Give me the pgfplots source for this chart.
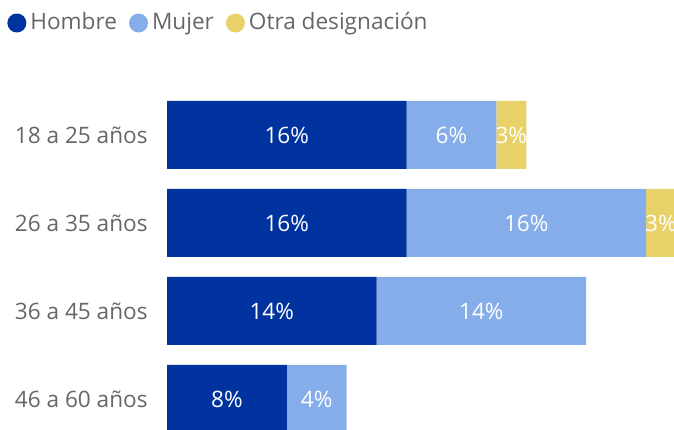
\documentclass[border=0pt]{standalone}
\usepackage{pgfplots}
\pgfplotsset{compat=1.18}
\usepackage{fontspec}
\setmainfont{Open Sans}
\definecolor{hombre}{RGB}{0,51,160}
\definecolor{mujer}{RGB}{133,173,233}
\definecolor{otra}{RGB}{232,209,104}
\definecolor{txt}{RGB}{102,102,102}

\begin{document}
\fontsize{11.3pt}{13pt}\selectfont
\begin{tikzpicture}
\begin{axis}[
  at={(83.5pt,0pt)}, anchor=south west,
  scale only axis,
  x=7.4845pt, xmin=0, xmax=35,
  height=169.5pt,
  ymin=-0.511, ymax=3.341, y dir=reverse,
  xbar stacked, bar width=34pt,
  ytick={0,1,2,3},
  yticklabels={18 a 25 años,26 a 35 años,36 a 45 años,46 a 60 años},
  yticklabel style={text=txt, inner sep=0pt, xshift=-9.5pt},
  xtick=\empty,
  axis line style={draw=none},
  major tick length=0pt,
  point meta=explicit symbolic,
  nodes near coords,
  every node near coord/.append style={text=white, anchor=center, inner sep=0pt},
  legend columns=-1,
  legend image code/.code={\fill[#1] (4.75pt,0pt) circle (4.75pt);},
  legend style={at={(-0.3156*33.87/35,1.1976)}, anchor=west, draw=none, fill=none,
    inner sep=0pt, text=txt, nodes={inner sep=0pt},
    /tikz/every odd column/.append style={column sep=2pt},
    /tikz/every even column/.append style={column sep=6pt}},
]
\addplot[fill=hombre, draw=none] coordinates {(16,0) [16\%] (16,1) [16\%] (14,2) [14\%] (8,3) [8\%]};
\addplot[fill=mujer, draw=none] coordinates {(6,0) [6\%] (16,1) [16\%] (14,2) [14\%] (4,3) [4\%]};
\addplot[fill=otra, draw=none] coordinates {(2,0) [3\%] (2,1) [3\%] (0,2) [] (0,3) []};
\legend{Hombre,Mujer,Otra designación}
\end{axis}
\pgfresetboundingbox
\path[use as bounding box] (0,0) rectangle (337pt,214.5pt);
\end{tikzpicture}
\end{document}
